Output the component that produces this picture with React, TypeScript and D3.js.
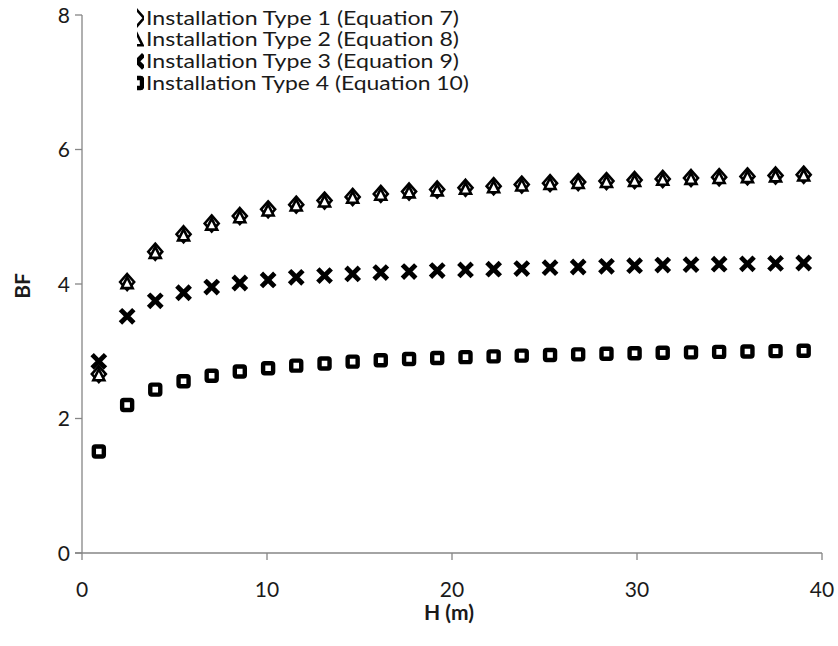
import React from "react";
import * as d3 from "d3";

const H_VALUES = [0.91, 2.44, 3.96, 5.49, 7.01, 8.53, 10.06, 11.58, 13.11, 14.63, 16.15, 17.68, 19.2, 20.73, 22.25, 23.77, 25.3, 26.82, 28.35, 29.87, 31.39, 32.92, 34.44, 35.97, 37.49, 39.01];
const TYPE1 = [2.66, 4.03, 4.48, 4.74, 4.9, 5.01, 5.11, 5.18, 5.24, 5.295, 5.34, 5.375, 5.405, 5.43, 5.455, 5.478, 5.5, 5.515, 5.53, 5.545, 5.562, 5.575, 5.588, 5.6, 5.612, 5.625];
const TYPE2 = [2.65, 4.02, 4.47, 4.73, 4.89, 5.0, 5.1, 5.175, 5.234, 5.29, 5.335, 5.37, 5.4, 5.423, 5.447, 5.472, 5.495, 5.51, 5.525, 5.54, 5.558, 5.57, 5.584, 5.596, 5.608, 5.62];
const TYPE3 = [2.85, 3.52, 3.75, 3.87, 3.955, 4.015, 4.06, 4.1, 4.125, 4.15, 4.17, 4.185, 4.2, 4.21, 4.22, 4.23, 4.243, 4.253, 4.263, 4.272, 4.282, 4.288, 4.294, 4.3, 4.306, 4.312];
const TYPE4 = [1.51, 2.2, 2.43, 2.553, 2.635, 2.7, 2.748, 2.786, 2.818, 2.845, 2.866, 2.885, 2.9, 2.912, 2.924, 2.935, 2.945, 2.954, 2.962, 2.97, 2.977, 2.984, 2.99, 2.996, 3.002, 3.008];
const LEGEND_LABELS = [
  "Installation Type 1 (Equation 7)",
  "Installation Type 2 (Equation 8)",
  "Installation Type 3 (Equation 9)",
  "Installation Type 4 (Equation 10)",
];
const LEGEND_WIDTHS = [313, 313, 313, 323];
const X_TICKS = [0, 10, 20, 30, 40];
const Y_TICKS = [0, 2, 4, 6, 8];

const W = 838;
const HGT = 646;
const FONT = "Lato, 'Open Sans', sans-serif";
const AXIS = "#868686";

function Marker({ kind, x, y }: { kind: number; x: number; y: number }) {
  if (kind === 0) {
    const r = 7;
    return (
      <path
        d={`M${x},${y - r - 1}L${x + r},${y}L${x},${y + r + 1}L${x - r},${y}Z`}
        fill="white"
        stroke="black"
        strokeWidth={2.6}
      />
    );
  }
  if (kind === 1) {
    const s = 5.5;
    return (
      <path
        d={`M${x},${y - s}L${x + s},${y + s}L${x - s},${y + s}Z`}
        fill="white"
        stroke="black"
        strokeWidth={2.6}
      />
    );
  }
  if (kind === 2) {
    const s = 5;
    return (
      <path
        d={`M${x - s},${y - s}L${x + s},${y + s}M${x + s},${y - s}L${x - s},${y + s}`}
        stroke="black"
        strokeWidth={4.8}
        fill="none"
        strokeLinecap="square"
      />
    );
  }
  return (
    <rect x={x - 5} y={y - 5} width={10} height={10} rx={1.5} fill="white" stroke="black" strokeWidth={4.4} />
  );
}

export default function App() {
  const x = d3.scaleLinear().domain([0, 40]).range([82, 822]);
  const y = d3.scaleLinear().domain([0, 8]).range([553, 15]);
  const series = [TYPE1, TYPE2, TYPE3, TYPE4];
  const legendY = [18, 39.7, 61.3, 83];

  return (
    <svg width={W} height={HGT} style={{ position: "absolute", left: 0, top: 0, background: "white" }}>
      <rect x={0} y={0} width={W} height={HGT} fill="white" />
      <line x1={x(0)} x2={x(0)} y1={y(8)} y2={y(0)} stroke={AXIS} strokeWidth={1.3} />
      <line x1={x(0) - 7} x2={x(40)} y1={y(0)} y2={y(0)} stroke={AXIS} strokeWidth={1.3} />
      {Y_TICKS.map((t) => (
        <g key={"y" + t}>
          <line x1={x(0) - 7} x2={x(0)} y1={y(t)} y2={y(t)} stroke={AXIS} strokeWidth={1.3} />
          <text x={x(0) - 12} y={y(t)} dy="0.36em" textAnchor="end" fontFamily={FONT} fontSize={21} fill="#1a1a1a">
            {t}
          </text>
        </g>
      ))}
      {X_TICKS.map((t) => (
        <g key={"x" + t}>
          <line x1={x(t)} x2={x(t)} y1={y(0)} y2={y(0) + 7} stroke={AXIS} strokeWidth={1.3} />
          <text x={x(t)} y={589} dy="0.36em" textAnchor="middle" fontFamily={FONT} fontSize={21} fill="#1a1a1a">
            {t}
          </text>
        </g>
      ))}
      <text x={449} y={612} dy="0.36em" textAnchor="middle" fontFamily={FONT} fontSize={21} fontWeight="bold" fill="#1a1a1a">
        H (m)
      </text>
      <text
        transform={`translate(22,286) rotate(-90)`}
        textAnchor="middle"
        dy="0.36em"
        fontFamily={FONT}
        fontSize={21}
        fontWeight="bold"
        fill="#1a1a1a"
      >
        BF
      </text>
      {series.map((vals, si) => (
        <g key={"s" + si}>
          {vals.map((v, i) => (
            <Marker key={i} kind={si} x={x(H_VALUES[i])} y={y(v)} />
          ))}
        </g>
      ))}
      <defs>
        <clipPath id="legclip">
          <rect x={137} y={0} width={7} height={100} />
        </clipPath>
      </defs>
      {LEGEND_LABELS.map((lab, i) => (
        <g key={"l" + i}>
          <g clipPath="url(#legclip)">
            <Marker kind={i} x={137} y={legendY[i]} />
          </g>
          <text
            x={146}
            y={legendY[i]}
            dy="0.36em"
            fontFamily={FONT}
            fontSize={18.5}
            fill="#1a1a1a"
            textLength={LEGEND_WIDTHS[i]}
            lengthAdjust="spacingAndGlyphs"
          >
            {lab}
          </text>
        </g>
      ))}
    </svg>
  );
}
